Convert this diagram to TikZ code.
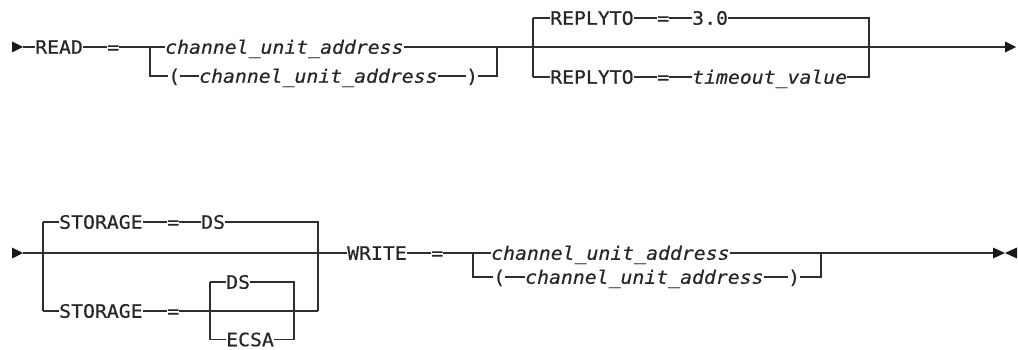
\documentclass[tikz,border=0pt]{standalone}
\usepackage{fontspec}
\newfontfamily\rrfont{DejaVu Sans Mono}[FakeStretch=1.07,FakeBold=0.4]
\begin{document}
\begin{tikzpicture}[x=1pt,y=-1pt,
  rail/.style={draw=black!82,line width=1.15pt},
  thickrail/.style={draw=black!82,line width=1.8pt},
  tip/.style={fill=black!90},
  tok/.style={anchor=west,inner xsep=0pt,inner ysep=0pt,text height=13.5pt,text depth=0pt,
    text=black!85,font=\rrfont\fontsize{18.5pt}{20pt}\selectfont},
  var/.style={tok,font=\rrfont\itshape\fontsize{18.5pt}{20pt}\selectfont}]
\useasboundingbox (0,0) rectangle (1018,350);

% ---------------- Row 1 ----------------
\coordinate (s1) at (23,47);
\fill[tip] (12,41.5) -- (s1) -- (12,52.5) -- cycle;
\node[tok] (read) at (35,47) {READ};
\node[tok] (eq1) at (107,47) {=};
\coordinate (b1) at (150,47);
\coordinate (b1d) at (150,76);
\node[var] (cua1) at (165,47) {channel\_unit\_address};
\node[tok] (lp1) at (168,76) {(};
\node[var] (cua2) at (199,76) {channel\_unit\_address};
\node[tok] (rp1) at (466,76) {)};
\coordinate (j1) at (497,47);
\coordinate (j1d) at (497,76);

\draw[rail] (s1) -- (read.west);
\draw[rail] (read.east) -- (eq1.west);
\draw[rail] (eq1.east) -- (b1) -- (cua1.west);
\draw[rail] (b1) -- (b1d) -- (lp1.west);
\draw[rail] (lp1.east) -- (cua2.west);
\draw[rail] (cua2.east) -- (rp1.west);
\draw[rail] (rp1.east) -- (j1d) -- (j1);
\draw[rail] (cua1.east) -- (j1);

\coordinate (b2) at (533,47);
\coordinate (b2u) at (533,18);
\coordinate (b2d) at (533,77);
\node[tok] (rt1) at (550,18) {REPLYTO};
\node[tok] (eq2) at (657,18) {=};
\node[tok] (v30) at (692,18) {3.0};
\node[tok] (rt2) at (550,77) {REPLYTO};
\node[tok] (eq3) at (657,77) {=};
\node[var] (tv) at (692,77) {timeout\_value};
\coordinate (j2u) at (869,18);
\coordinate (j2) at (869,47);
\coordinate (j2d) at (869,77);
\coordinate (e1) at (1005,47);

\draw[rail] (b2u) -- (b2d);
\draw[rail] (b2u) -- (rt1.west);
\draw[rail] (rt1.east) -- (eq2.west);
\draw[rail] (eq2.east) -- (v30.west);
\draw[rail] (v30.east) -- (j2u) -- (j2d) -- (tv.east);
\draw[rail] (b2d) -- (rt2.west);
\draw[rail] (rt2.east) -- (eq3.west);
\draw[rail] (eq3.east) -- (tv.west);
\draw[rail] (j1) -- (b2) -- (j2) -- (e1);
\fill[tip] (1005,41.5) -- (1016,47) -- (1005,52.5) -- cycle;

% ---------------- Row 2 ----------------
\coordinate (s2) at (23,253);
\fill[tip] (12,247.5) -- (s2) -- (12,258.5) -- cycle;
\coordinate (b3) at (43,253);
\coordinate (b3u) at (43,222);
\coordinate (b3d) at (43,311);
\node[tok] (st1) at (59,222) {STORAGE};
\node[tok] (eq4) at (167,222) {=};
\node[tok] (ds1) at (201,222) {DS};
\node[tok] (st2) at (59,311) {STORAGE};
\node[tok] (eq5) at (167,311) {=};
\coordinate (j3u) at (318,222);
\coordinate (j3) at (318,253);
\coordinate (j3d) at (318,311);

\coordinate (b4u) at (210,282);
\coordinate (b4d) at (210,339.5);
\node[tok] (ds2) at (226,282) {DS};
\node[tok] (ecsa) at (226,339.5) {ECSA};
\coordinate (j4u) at (294,282);
\coordinate (j4d) at (294,339.5);

\draw[rail] (b3u) -- (b3d);
\draw[rail] (b3u) -- (st1.west);
\draw[rail] (st1.east) -- (eq4.west);
\draw[rail] (eq4.east) -- (ds1.west);
\draw[rail] (ds1.east) -- (j3u) -- (j3d);
\draw[rail] (b3d) -- (st2.west);
\draw[rail] (st2.east) -- (eq5.west);
\draw[rail] (eq5.east) -- (j3d);
\draw[rail] (b4u) -- (b4d);
\draw[rail] (b4u) -- (ds2.west);
\draw[rail] (b4d) -- (ecsa.west);
\draw[rail] (ds2.east) -- (j4u) -- (j4d) -- (ecsa.east);

\node[tok] (wr) at (347,253) {WRITE};
\node[tok] (eq6) at (431,253) {=};
\coordinate (b5) at (473,253);
\coordinate (b5d) at (473,277);
\node[var] (cua3) at (491,253) {channel\_unit\_address};
\node[tok] (lp2) at (493,277) {(};
\node[var] (cua4) at (525,277) {channel\_unit\_address};
\node[tok] (rp2) at (788,277) {)};
\coordinate (j5) at (821,253);
\coordinate (j5d) at (821,277);
\coordinate (d1) at (827,252.4);
\coordinate (d2) at (850,252.4);
\coordinate (e2) at (993,253);

\draw[rail] (s2) -- (b3) -- (j3) -- (wr.west);
\draw[rail] (wr.east) -- (eq6.west);
\draw[rail] (eq6.east) -- (b5) -- (cua3.west);
\draw[rail] (b5) -- (b5d) -- (lp2.west);
\draw[rail] (lp2.east) -- (cua4.west);
\draw[rail] (cua4.east) -- (rp2.west);
\draw[rail] (rp2.east) -- (j5d) -- (j5);
\draw[rail] (cua3.east) -- (j5) -- (e2);
\draw[thickrail] (d1) -- (d2);
\fill[tip] (993,247.5) -- (1005,253) -- (993,258.5) -- cycle;
\fill[tip] (1017,247.5) -- (1005,253) -- (1017,258.5) -- cycle;
\end{tikzpicture}
\end{document}
